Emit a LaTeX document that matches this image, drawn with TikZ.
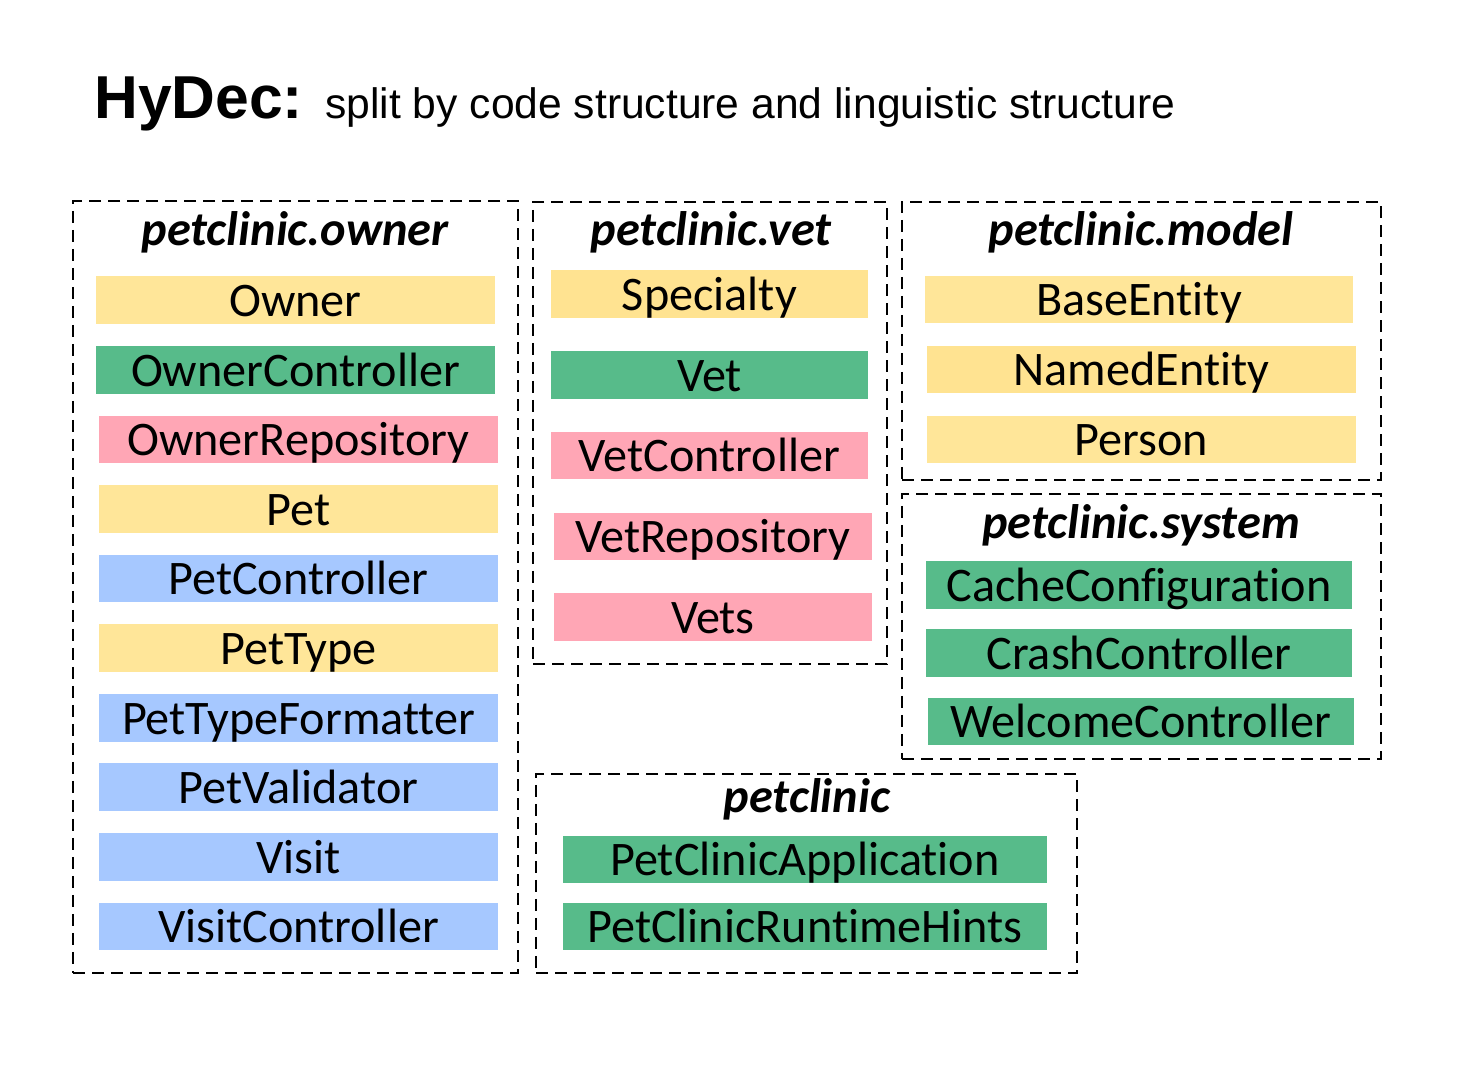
\documentclass[tikz,border=0pt]{standalone}
\usepackage{fontspec}
\setmainfont{Carlito}[Ligatures=NoCommon]
\newfontfamily\arialf{Liberation Sans}
\definecolor{cyellow}{HTML}{FFE699}
\definecolor{cyellowb}{HTML}{FFE391}
\definecolor{cgreen}{HTML}{57BB8A}
\definecolor{cpink}{HTML}{FFA6B5}
\definecolor{cblue}{HTML}{A6C8FF}
\tikzset{
  clsbar/.style={draw=none, inner sep=0pt, outer sep=0pt, text height=16.5pt, text depth=0pt,
    font=\fontsize{24.1pt}{28pt}\selectfont, text=black},
  pkgframe/.style={draw=black, line width=1.2pt, dash pattern=on 6pt off 3.5pt, inner sep=0pt, fill=none},
  pkghead/.style={inner sep=0pt, anchor=base, font=\fontsize{24.2pt}{28pt}\selectfont\bfseries\itshape},
  titlebig/.style={inner sep=0pt, anchor=base west, font=\arialf\fontsize{30.3pt}{34pt}\selectfont\bfseries},
  titlesmall/.style={inner sep=0pt, anchor=base west, font=\arialf\fontsize{21.3pt}{25pt}\selectfont},
}
\newcommand\clsbar[7]{\node[clsbar, fill=#6, minimum width={(#4-#2)*0.5pt}, minimum height={(#5-#3)*0.5pt}] (#1) at ({(#2+#4)/2},{(#3+#5)/2}) {#7};}
\newcommand\pkgbox[5]{\node[pkgframe, minimum width={(#4-#2)*0.5pt}, minimum height={(#5-#3)*0.5pt}] (#1) at ({(#2+#4)/2},{(#3+#5)/2}) {};}
\begin{document}
\begin{tikzpicture}[x=0.5pt, y=-0.5pt]
\useasboundingbox[fill=white] (0,0) rectangle (1464,1074);
% title
\node[titlebig] (ttl) at (94,119) {HyDec:};
\node[titlesmall] (subttl) at (325,119) {split by code structure and linguistic structure};
% frames
\pkgbox{fowner}{73}{201}{518}{973}
\pkgbox{fvet}{533}{202}{887}{664}
\pkgbox{fmodel}{902}{202}{1381}{480}
\pkgbox{fsystem}{902}{494}{1381}{759}
\pkgbox{froot}{536}{774}{1077}{973}
% headers
\node[pkghead] (howner) at (295,246) {petclinic.owner};
\node[pkghead] (hvet) at (711,246) {petclinic.vet};
\node[pkghead] (hmodel) at (1141,246) {petclinic.model};
\node[pkghead] (hsystem) at (1141,539) {petclinic.system};
\node[pkghead] (hroot) at (807,813) {petclinic};
% owner
\clsbar{owner}{96}{276}{495}{324}{cyellow}{Owner}
\clsbar{ownerctl}{96}{346}{495}{394}{cgreen}{OwnerController}
\clsbar{ownerrepo}{99}{416}{498}{463}{cpink}{OwnerRepository}
\clsbar{pet}{99}{485}{498}{533}{cyellow}{Pet}
\clsbar{petctl}{99}{555}{498}{602}{cblue}{PetController}
\clsbar{pettype}{99}{624}{498}{672}{cyellow}{PetType}
\clsbar{pettypefmt}{99}{694}{498}{742}{cblue}{PetTypeFormatter}
\clsbar{petval}{99}{763}{498}{811}{cblue}{PetValidator}
\clsbar{visit}{99}{833}{498}{881}{cblue}{Visit}
\clsbar{visitctl}{99}{903}{498}{950}{cblue}{VisitController}
% vet
\clsbar{specialty}{551}{270}{868}{318}{cyellowb}{Specialty}
\clsbar{vet}{551}{351}{868}{399}{cgreen}{Vet}
\clsbar{vetctl}{551}{432}{868}{479}{cpink}{VetController}
\clsbar{vetrepo}{554}{513}{872}{560}{cpink}{VetRepository}
\clsbar{vets}{554}{593}{872}{641}{cpink}{Vets}
% model
\clsbar{baseent}{925}{276}{1353}{323}{cyellow}{BaseEntity}
\clsbar{namedent}{927}{346}{1356}{393}{cyellowb}{NamedEntity}
\clsbar{person}{927}{416}{1356}{463}{cyellow}{Person}
% system
\clsbar{cachecfg}{926}{561}{1352}{609}{cgreen}{CacheConfiguration}
\clsbar{crashctl}{926}{629}{1352}{677}{cgreen}{CrashController}
\clsbar{welcomectl}{928}{698}{1354}{745}{cgreen}{WelcomeController}
% petclinic
\clsbar{pcapp}{563}{836}{1047}{883}{cgreen}{PetClinicApplication}
\clsbar{pchints}{563}{903}{1047}{950}{cgreen}{PetClinicRuntimeHints}
\end{tikzpicture}
\end{document}
